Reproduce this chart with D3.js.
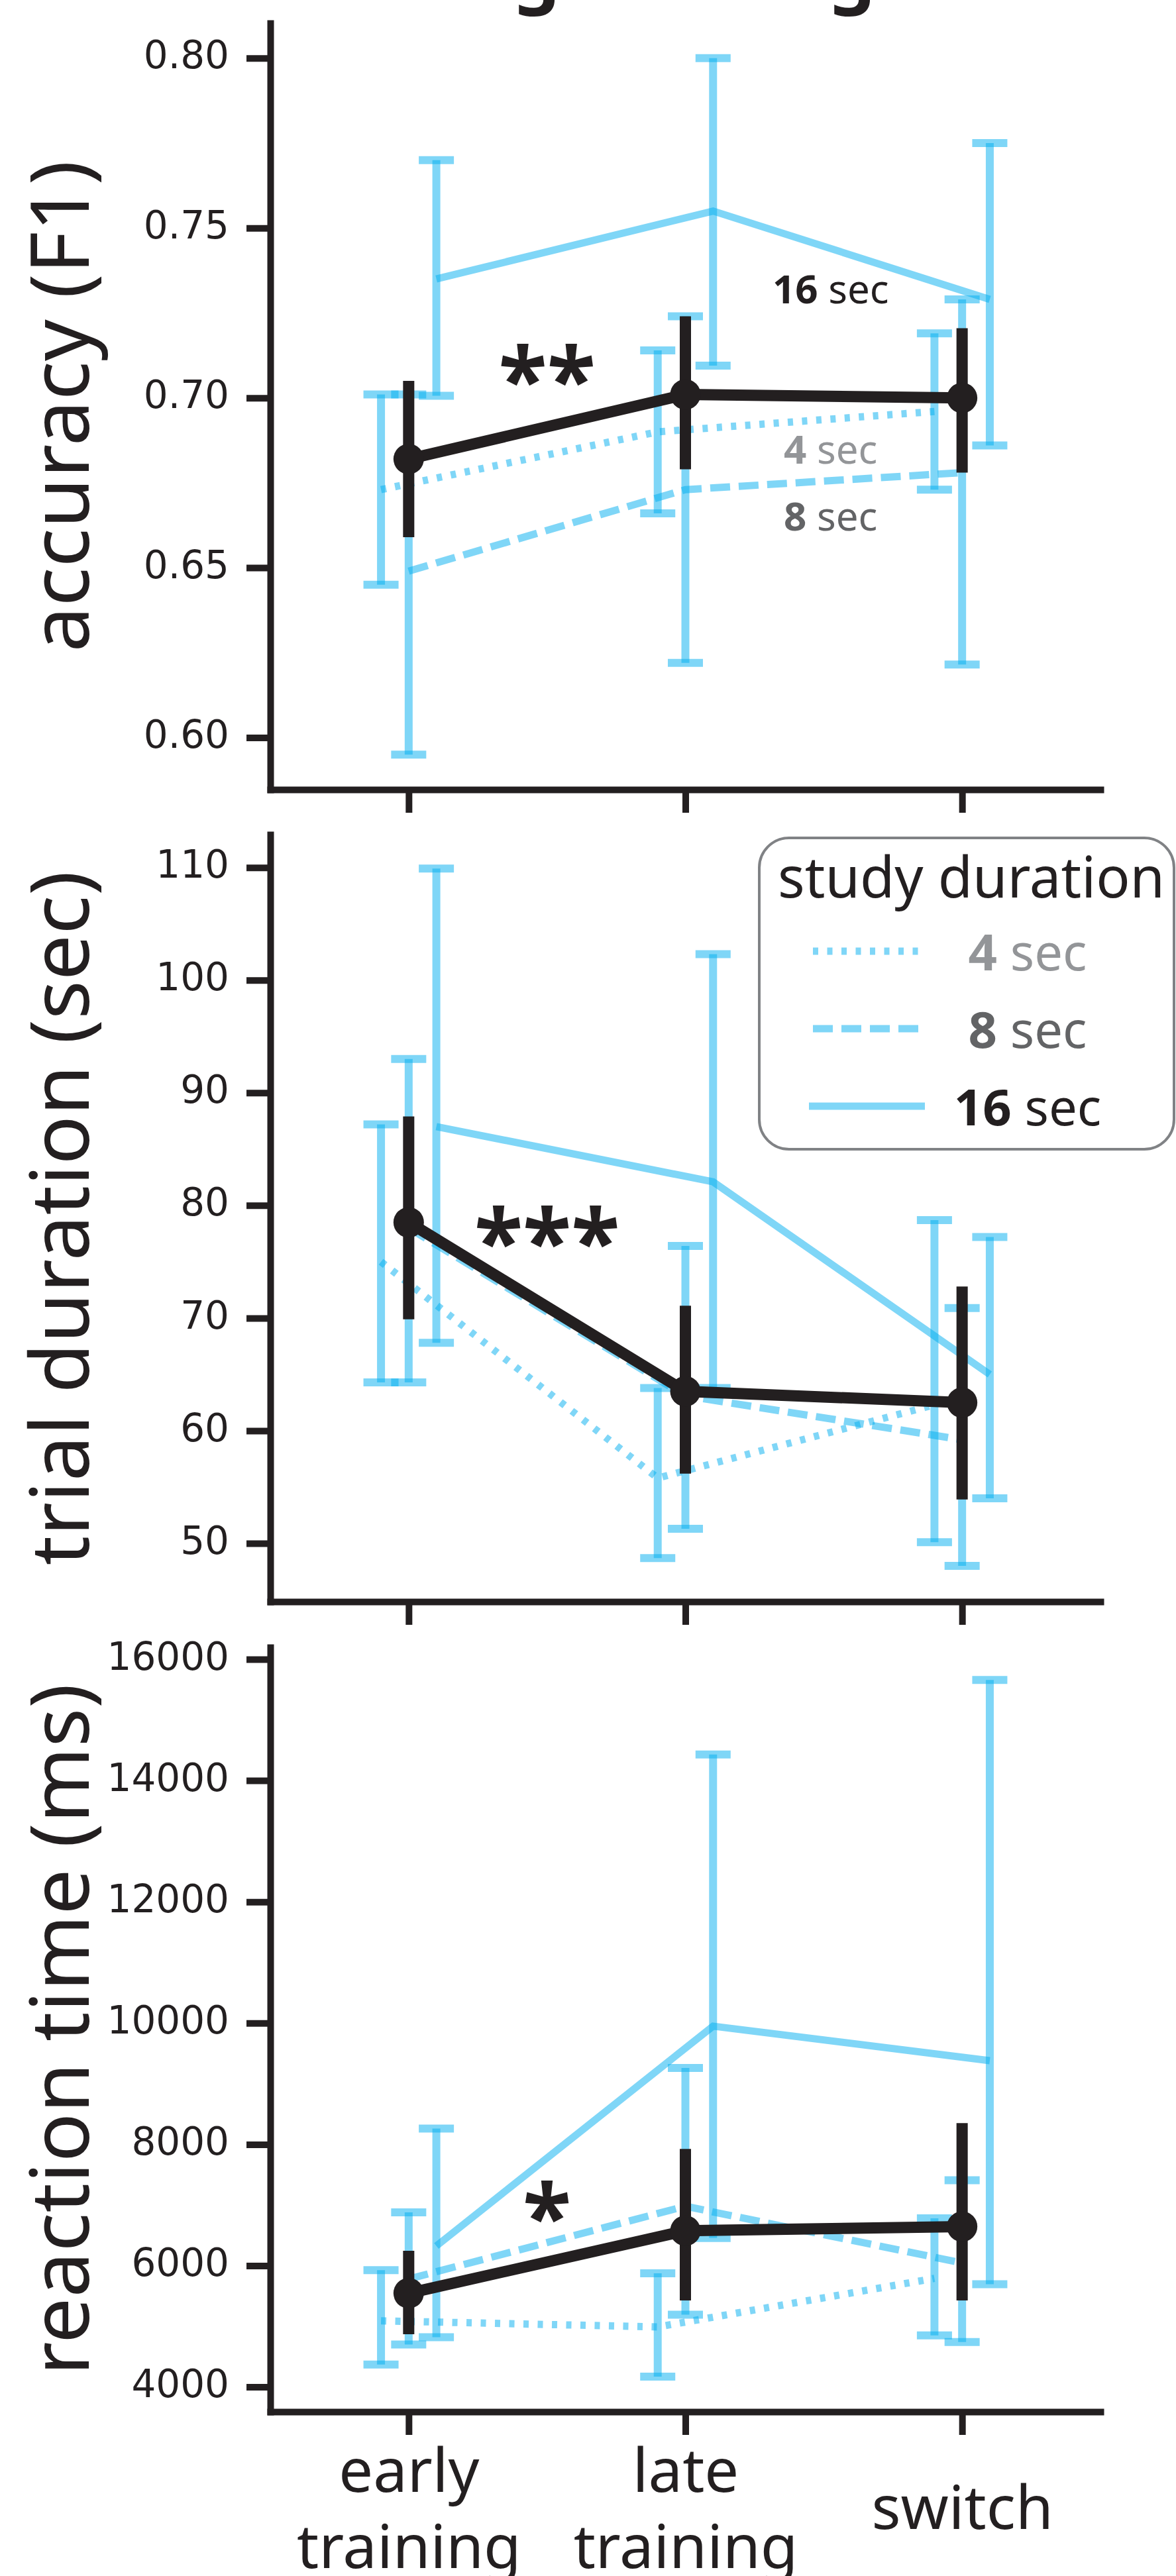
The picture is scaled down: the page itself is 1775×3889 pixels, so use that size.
<!DOCTYPE html>
<meta charset="utf-8">
<style>
body { margin: 0; background: #fff; }
svg { display: block; }
text { fill: #231f20; font-family: "Noto Sans", sans-serif; }
.axis path, .axis line { stroke: #231f20; stroke-width: 10px; }
.axis path { stroke-linecap: square; }
.axis text { font-family: "DejaVu Sans", sans-serif; font-size: 58px; fill: #231f20; }
.axis text.xlab { font-family: "Noto Sans", sans-serif; font-size: 92px; }
.ylab { font-size: 123px; }
.star { font-size: 135px; font-weight: bold; }
.blue { fill: none; stroke: #00aeef; stroke-opacity: 0.5; }
.overall { fill: none; stroke: #231f20; }
</style>
<svg width="1775" height="3889"></svg>
<script src="https://d3js.org/d3.v7.min.js"></script>
<script>

// categories
var phases = [["early", "training"], ["late", "training"], ["switch"]];
var durations = ["4 sec", "8 sec", "16 sec"];

// accuracy (F1): mean, lower, upper per phase
var acc4 = [0.673, 0.690, 0.696], acc4Lo = [0.645, 0.666, 0.673], acc4Hi = [0.701, 0.714, 0.719];
var acc8 = [0.649, 0.673, 0.678], acc8Lo = [0.595, 0.622, 0.6215], acc8Hi = [0.701, 0.724, 0.729];
var acc16 = [0.735, 0.755, 0.729], acc16Lo = [0.7006, 0.7095, 0.686], acc16Hi = [0.770, 0.800, 0.775];
var accAll = [0.682, 0.701, 0.700], accAllLo = [0.659, 0.679, 0.678], accAllHi = [0.705, 0.724, 0.7205];

// trial duration (sec)
var td4 = [75.0, 55.8, 62.3], td4Lo = [64.3, 48.7, 50.1], td4Hi = [87.2, 63.8, 78.7];
var td8 = [78.0, 63.1, 59.2], td8Lo = [64.3, 51.3, 48.0], td8Hi = [93.0, 76.4, 70.9];
var td16 = [87.0, 82.1, 65.0], td16Lo = [67.8, 63.8, 54.0], td16Hi = [109.9, 102.3, 77.2];
var tdAll = [78.5, 63.5, 62.5], tdAllLo = [69.9, 56.2, 53.9], tdAllHi = [87.9, 71.1, 72.8];

// reaction time (ms)
var rt4 = [5090, 4990, 5790], rt4Lo = [4370, 4170, 4850], rt4Hi = [5925, 5875, 6780];
var rt8 = [5780, 6980, 6045], rt8Lo = [4700, 5190, 4740], rt8Hi = [6880, 9260, 7410];
var rt16 = [6325, 9950, 9380], rt16Lo = [4820, 6455, 5695], rt16Hi = [8260, 14430, 15660];
var rtAll = [5545, 6575, 6645], rtAllLo = [4870, 5425, 5425], rtAllHi = [6245, 7925, 8350];

// tick labels
var accTicks = [0.60, 0.65, 0.70, 0.75, 0.80];
var tdTicks = [50, 60, 70, 80, 90, 100, 110];
var rtTicks = [4000, 6000, 8000, 10000, 12000, 14000, 16000];

// significance marks
var accStars = "**", tdStars = "***", rtStars = "*";

var svg = d3.select("svg");

var x = d3.scaleLinear().domain([-0.5, 2.5]).range([408, 1661]);

// per-duration drawing style
var styles = {
  "4 sec":  { off: -0.1, dash: "8,13.5", color: "#939598" },
  "8 sec":  { off: 0,    dash: "30,13",  color: "#636466" },
  "16 sec": { off: 0.1,  dash: null,     color: "#231f20" }
};

var panels = [
  { top: 35, bottom: 1192, ylim: [0.5847, 0.8103], ticks: accTicks, fmt: ".2f",
    label: "accuracy (F1)",
    series: [[acc4, acc4Lo, acc4Hi], [acc8, acc8Lo, acc8Hi], [acc16, acc16Lo, acc16Hi]],
    all: [accAll, accAllLo, accAllHi], stars: accStars, starY: 0.6958 },
  { top: 1260, bottom: 2418, ylim: [44.83, 112.92], ticks: tdTicks, fmt: "d",
    label: "trial duration (sec)",
    series: [[td4, td4Lo, td4Hi], [td8, td8Lo, td8Hi], [td16, td16Lo, td16Hi]],
    all: [tdAll, tdAllLo, tdAllHi], stars: tdStars, starY: 73.93 },
  { top: 2487, bottom: 3641, ylim: [3591, 16197], ticks: rtTicks, fmt: "d",
    label: "reaction time (ms)",
    series: [[rt4, rt4Lo, rt4Hi], [rt8, rt8Lo, rt8Hi], [rt16, rt16Lo, rt16Hi]],
    all: [rtAll, rtAllLo, rtAllHi], stars: rtStars, starY: 6278 }
];

// title, mostly above the page
svg.append("text")
    .attr("x", 898).attr("y", -2)
    .attr("text-anchor", "middle")
    .style("font-size", "112px").style("font-weight", "bold")
    .text("during training");

panels.forEach(function(p, k) {
  var y = d3.scaleLinear().domain(p.ylim).range([p.bottom, p.top]);
  var g = svg.append("g");

  // axes
  var xAxis = g.append("g")
      .attr("class", "axis")
      .attr("transform", "translate(0," + p.bottom + ")")
      .call(d3.axisBottom(x).tickValues([0, 1, 2]).tickSize(35).tickSizeOuter(0).tickFormat(""));

  g.append("g")
      .attr("class", "axis")
      .attr("transform", "translate(408,0)")
      .call(d3.axisLeft(y).tickValues(p.ticks).tickSize(36).tickSizeOuter(0)
          .tickPadding(26).tickFormat(d3.format(p.fmt)))
    .selectAll("text")
      .attr("dy", "0.26em");

  if (k == 2) {
    xAxis.selectAll(".tick text").each(function(d) {
      var t = d3.select(this).attr("dy", null).attr("y", null).attr("class", "xlab");
      var lines = phases[d];
      lines.forEach(function(s, j) {
        t.append("tspan")
            .attr("x", 0)
            .attr("y", lines.length == 1 ? 177 : 121 + j * 115)
            .text(s);
      });
    });
  }

  // y label
  var cy = (p.top + p.bottom) / 2;
  g.append("text")
      .attr("class", "ylab")
      .attr("text-anchor", "middle")
      .attr("transform", "translate(134," + cy + ") rotate(-90)")
      .text(p.label);

  // blue series: line + error bars
  durations.forEach(function(name, i) {
    var st = styles[name], s = p.series[i];
    var line = d3.line()
        .x(function(d, j) { return x(j + st.off); })
        .y(function(d) { return y(d); });

    g.append("path")
        .datum(s[0])
        .attr("class", "blue")
        .attr("stroke-width", 11)
        .attr("stroke-dasharray", st.dash)
        .attr("d", line);

    var eb = g.append("g").selectAll("g")
        .data(d3.range(3))
        .enter().append("g");

    eb.append("line")
        .attr("class", "blue")
        .attr("stroke-width", 12)
        .attr("x1", function(j) { return x(j + st.off); })
        .attr("x2", function(j) { return x(j + st.off); })
        .attr("y1", function(j) { return y(s[1][j]); })
        .attr("y2", function(j) { return y(s[2][j]); });

    [1, 2].forEach(function(c) {
      eb.append("line")
          .attr("class", "blue")
          .attr("stroke-width", 12)
          .attr("x1", function(j) { return x(j + st.off) - 26.5; })
          .attr("x2", function(j) { return x(j + st.off) + 26.5; })
          .attr("y1", function(j) { return y(s[c][j]); })
          .attr("y2", function(j) { return y(s[c][j]); });
    });
  });

  // overall mean in black
  var a = p.all;
  g.append("path")
      .datum(a[0])
      .attr("class", "overall")
      .attr("stroke-width", 17)
      .attr("d", d3.line().x(function(d, j) { return x(j); }).y(function(d) { return y(d); }));

  g.append("g").selectAll("line")
      .data(d3.range(3))
      .enter().append("line")
      .attr("class", "overall")
      .attr("stroke-width", 17)
      .attr("x1", function(j) { return x(j); })
      .attr("x2", function(j) { return x(j); })
      .attr("y1", function(j) { return y(a[1][j]); })
      .attr("y2", function(j) { return y(a[2][j]); });

  g.append("g").selectAll("circle")
      .data(a[0])
      .enter().append("circle")
      .attr("cx", function(d, j) { return x(j); })
      .attr("cy", function(d) { return y(d); })
      .attr("r", 23)
      .attr("fill", "#231f20");

  g.append("text")
      .attr("class", "star")
      .attr("text-anchor", "middle")
      .attr("x", x(0.5))
      .attr("y", y(p.starY))
      .text(p.stars);

  p.y = y;
});

// direct labels in the accuracy panel
var accLabels = [
  { name: "16 sec", at: 0.7278 },
  { name: "4 sec", at: 0.6806 },
  { name: "8 sec", at: 0.6610 }
];
var yAcc = panels[0].y;
accLabels.forEach(function(l) {
  var t = svg.append("text")
      .attr("x", x(1.525))
      .attr("y", yAcc(l.at))
      .attr("text-anchor", "middle")
      .style("font-size", "60px");
  var parts = l.name.split(" ");
  t.append("tspan").style("font-weight", "bold").style("fill", styles[l.name].color).text(parts[0]);
  t.append("tspan").style("fill", styles[l.name].color).text(" " + parts[1]);
});

// legend
var legend = svg.append("g");
legend.append("rect")
    .attr("x", 1146).attr("y", 1265)
    .attr("width", 626).attr("height", 470)
    .attr("rx", 45).attr("ry", 45)
    .attr("fill", "#fff")
    .attr("stroke", "#808285")
    .attr("stroke-width", 4);

legend.append("text")
    .attr("x", 1174).attr("y", 1355)
    .style("font-size", "85px")
    .text("study duration");

durations.forEach(function(name, i) {
  var st = styles[name];
  var ly = 1436 + i * 117;
  legend.append("line")
      .attr("class", "blue")
      .attr("stroke-width", 11)
      .attr("stroke-dasharray", st.dash)
      .attr("x1", st.dash ? 1227 : 1221)
      .attr("x2", st.dash ? 1388 : 1396)
      .attr("y1", ly).attr("y2", ly);
  var parts = name.split(" ");
  var t = legend.append("text")
      .attr("x", 1551).attr("y", ly + 29)
      .attr("text-anchor", "middle")
      .style("font-size", "76px");
  t.append("tspan").style("font-weight", "bold").style("fill", st.color).text(parts[0]);
  t.append("tspan").style("fill", st.color).text(" " + parts[1]);
});

</script>
